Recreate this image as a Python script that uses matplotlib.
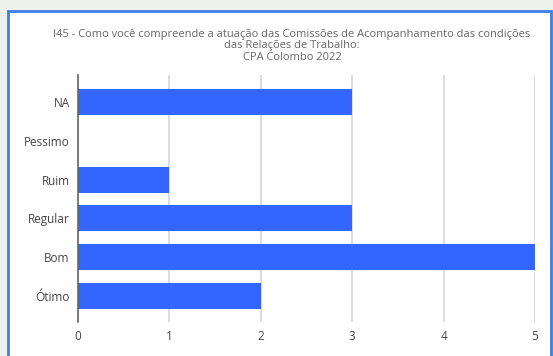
import matplotlib
matplotlib.use("Agg")
import matplotlib.pyplot as plt
from matplotlib.patches import Rectangle

categories = ["NA", "Pessimo", "Ruim", "Regular", "Bom", "Ótimo"]
values = [3, 0, 1, 3, 5, 2]
xticks = [0, 1, 2, 3, 4, 5]
title = ("I45 - Como você compreende a atuação das Comissões de Acompanhamento das condições\n"
         "das Relações de Trabalho:\nCPA Colombo 2022")

W, H = 553, 356
plt.rcParams['font.family'] = ['Open Sans', 'DejaVu Sans']
fig = plt.figure(figsize=(W/100, H/100), dpi=100, facecolor="#eef3ea")

# white panel with blue border
panel = Rectangle((8/W, -0.05), (551-8)/W, 1 - 10.5/H + 0.05, transform=fig.transFigure,
                  facecolor="white", edgecolor="#3d7ee8", linewidth=2, zorder=-5)
fig.patches.append(panel)

ax = fig.add_axes([78/W, 1 - 322/H, (535-78)/W, (322-75)/H])
ax.set_zorder(2)
ax.set_facecolor("none")
ypos = list(range(len(categories)))
ax.barh(ypos, values, height=0.67, color="#3366ff", zorder=3)
ax.set_yticks(ypos)
ax.set_yticklabels(categories)
ax.set_ylim(5.67, -0.696)
ax.set_xlim(0, 5)
ax.set_xticks(xticks)
ax.grid(axis="x", color="#dddddd", linewidth=1.5, zorder=0)
for s in ["top", "right", "bottom"]:
    ax.spines[s].set_visible(False)
ax.spines["left"].set_color("#666666")
ax.spines["left"].set_linewidth(1.2)
ax.spines["left"].set_zorder(4)
ax.tick_params(axis="both", length=0, labelsize=8.5, labelcolor="#444444")
ax.tick_params(axis="y", pad=6)
ax.tick_params(axis="x", pad=6)

fig.text(292/W, 1 - 28.5/H, title, ha="center", va="top", fontsize=8.0, color="#666666",
         linespacing=1.1, zorder=3)

fig.savefig("out.png", dpi=100, facecolor=fig.get_facecolor())
